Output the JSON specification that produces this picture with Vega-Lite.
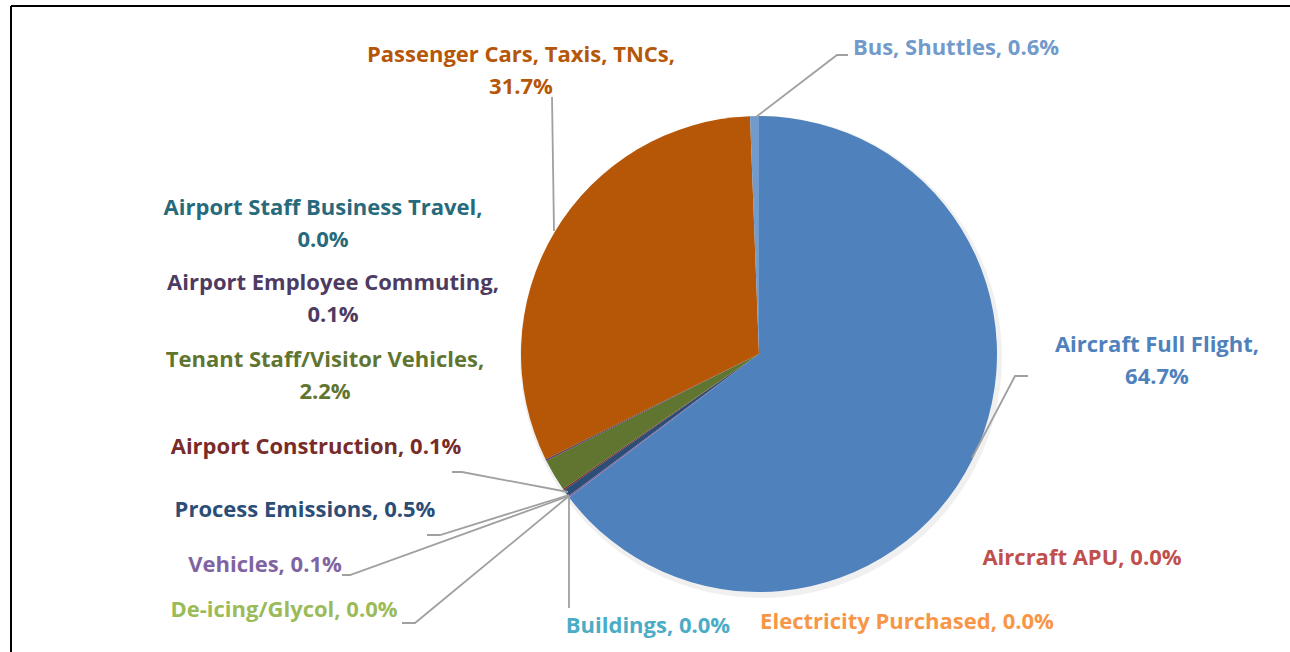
{
  "$schema": "https://vega.github.io/schema/vega-lite/v6.json",
  "width": 1290,
  "height": 652,
  "padding": 0,
  "autosize": "none",
  "background": "white",
  "config": {"view": {"stroke": null}},
  "datasets": {
    "slices": [
      {"category": "Aircraft Full Flight", "pct": 64.7, "order": 1},
      {"category": "Aircraft APU", "pct": 0.0, "order": 2},
      {"category": "Electricity Purchased", "pct": 0.0, "order": 3},
      {"category": "Buildings", "pct": 0.0, "order": 4},
      {"category": "De-icing/Glycol", "pct": 0.0, "order": 5},
      {"category": "Vehicles", "pct": 0.1, "order": 6},
      {"category": "Process Emissions", "pct": 0.5, "order": 7},
      {"category": "Airport Construction", "pct": 0.1, "order": 8},
      {"category": "Tenant Staff/Visitor Vehicles", "pct": 2.2, "order": 9},
      {"category": "Airport Employee Commuting", "pct": 0.1, "order": 10},
      {"category": "Airport Staff Business Travel", "pct": 0.0, "order": 11},
      {"category": "Passenger Cars, Taxis, TNCs", "pct": 31.7, "order": 12},
      {"category": "Bus, Shuttles", "pct": 0.6, "order": 13}
    ],
    "labels": [
      {"category": "Aircraft Full Flight", "label": "Aircraft Full Flight,\n64.7%", "lx": 1157, "ly": 345},
      {"category": "Aircraft APU", "label": "Aircraft APU, 0.0%", "lx": 1082, "ly": 558},
      {"category": "Electricity Purchased", "label": "Electricity Purchased, 0.0%", "lx": 907, "ly": 622},
      {"category": "Buildings", "label": "Buildings, 0.0%", "lx": 648, "ly": 626},
      {"category": "De-icing/Glycol", "label": "De-icing/Glycol, 0.0%", "lx": 284, "ly": 610},
      {"category": "Vehicles", "label": "Vehicles, 0.1%", "lx": 265, "ly": 565},
      {"category": "Process Emissions", "label": "Process Emissions, 0.5%", "lx": 305, "ly": 510},
      {"category": "Airport Construction", "label": "Airport Construction, 0.1%", "lx": 316, "ly": 447},
      {"category": "Tenant Staff/Visitor Vehicles", "label": "Tenant Staff/Visitor Vehicles,\n2.2%", "lx": 325, "ly": 360},
      {"category": "Airport Employee Commuting", "label": "Airport Employee Commuting,\n0.1%", "lx": 333, "ly": 283},
      {"category": "Airport Staff Business Travel", "label": "Airport Staff Business Travel,\n0.0%", "lx": 323, "ly": 208},
      {"category": "Passenger Cars, Taxis, TNCs", "label": "Passenger Cars, Taxis, TNCs,\n31.7%", "lx": 521, "ly": 55},
      {"category": "Bus, Shuttles", "label": "Bus, Shuttles, 0.6%", "lx": 956, "ly": 48}
    ],
    "leaders": [
      {"category": "Bus, Shuttles", "seq": 1, "px": 756, "py": 117},
      {"category": "Bus, Shuttles", "seq": 2, "px": 837, "py": 55},
      {"category": "Bus, Shuttles", "seq": 3, "px": 848, "py": 55},
      {"category": "Passenger Cars, Taxis, TNCs", "seq": 1, "px": 554, "py": 231},
      {"category": "Passenger Cars, Taxis, TNCs", "seq": 2, "px": 552, "py": 97},
      {"category": "Aircraft Full Flight", "seq": 1, "px": 972, "py": 458},
      {"category": "Aircraft Full Flight", "seq": 2, "px": 1015, "py": 376},
      {"category": "Aircraft Full Flight", "seq": 3, "px": 1028, "py": 376},
      {"category": "Buildings", "seq": 1, "px": 569, "py": 496},
      {"category": "Buildings", "seq": 2, "px": 569, "py": 608},
      {"category": "De-icing/Glycol", "seq": 1, "px": 569, "py": 496},
      {"category": "De-icing/Glycol", "seq": 2, "px": 415, "py": 623},
      {"category": "De-icing/Glycol", "seq": 3, "px": 402, "py": 623},
      {"category": "Vehicles", "seq": 1, "px": 569, "py": 496},
      {"category": "Vehicles", "seq": 2, "px": 350, "py": 575},
      {"category": "Vehicles", "seq": 3, "px": 342, "py": 575},
      {"category": "Process Emissions", "seq": 1, "px": 569, "py": 495},
      {"category": "Process Emissions", "seq": 2, "px": 440, "py": 535},
      {"category": "Process Emissions", "seq": 3, "px": 427, "py": 535},
      {"category": "Airport Construction", "seq": 1, "px": 568, "py": 492},
      {"category": "Airport Construction", "seq": 2, "px": 462, "py": 472},
      {"category": "Airport Construction", "seq": 3, "px": 452, "py": 472}
    ]
  },
  "layer": [
    {
      "data": {"values": [{"edge": "frame"}]},
      "mark": {"type": "rule", "color": "#000000", "strokeWidth": 2},
      "encoding": {
        "x": {"datum": 11, "type": "quantitative", "scale": {"domain": [0, 1290], "nice": false, "zero": false}, "axis": null},
        "x2": {"datum": 1290},
        "y": {"datum": 6, "type": "quantitative", "scale": {"domain": [0, 652], "nice": false, "zero": false, "reverse": true}, "axis": null}
      }
    },
    {
      "data": {"values": [{"edge": "frame"}]},
      "mark": {"type": "rule", "color": "#000000", "strokeWidth": 2},
      "encoding": {
        "x": {"datum": 11, "type": "quantitative"},
        "y": {"datum": 6, "type": "quantitative"},
        "y2": {"datum": 652}
      }
    },
    {
      "data": {"name": "slices"},
      "mark": {"type": "arc", "outerRadius": 241, "fill": "#000000", "opacity": 0.06},
      "encoding": {
        "theta": {"field": "pct", "type": "quantitative", "stack": true},
        "order": {"field": "order", "type": "quantitative"},
        "x": {"datum": 761, "type": "quantitative"},
        "y": {"datum": 357, "type": "quantitative"}
      }
    },
    {
      "data": {"name": "slices"},
      "mark": {"type": "arc", "outerRadius": 238},
      "encoding": {
        "theta": {"field": "pct", "type": "quantitative", "stack": true},
        "order": {"field": "order", "type": "quantitative"},
        "x": {"datum": 759, "type": "quantitative"},
        "y": {"datum": 354, "type": "quantitative"},
        "color": {
          "field": "category",
          "type": "nominal",
          "legend": null,
          "scale": {
            "domain": ["Aircraft Full Flight", "Aircraft APU", "Electricity Purchased", "Buildings", "De-icing/Glycol", "Vehicles", "Process Emissions", "Airport Construction", "Tenant Staff/Visitor Vehicles", "Airport Employee Commuting", "Airport Staff Business Travel", "Passenger Cars, Taxis, TNCs", "Bus, Shuttles"],
            "range": ["#4F81BD", "#C0504D", "#F79646", "#4BACC6", "#9BBB59", "#8064A2", "#2C4D75", "#772C2A", "#5F7530", "#4D3B62", "#276A7C", "#B65708", "#729ACA"]
          }
        }
      }
    },
    {
      "data": {"name": "leaders"},
      "mark": {"type": "line", "color": "#A0A0A0", "strokeWidth": 1.8, "interpolate": "linear"},
      "encoding": {
        "x": {"field": "px", "type": "quantitative"},
        "y": {"field": "py", "type": "quantitative"},
        "detail": {"field": "category"},
        "order": {"field": "seq", "type": "quantitative"}
      }
    },
    {
      "data": {"name": "labels"},
      "mark": {"type": "text", "font": "Open Sans", "fontWeight": "bold", "fontSize": 22, "align": "center", "baseline": "middle", "lineBreak": "\n", "lineHeight": 32},
      "encoding": {
        "x": {"field": "lx", "type": "quantitative"},
        "y": {"field": "ly", "type": "quantitative"},
        "text": {"field": "label"},
        "color": {"field": "category", "type": "nominal", "legend": null}
      }
    }
  ]
}
